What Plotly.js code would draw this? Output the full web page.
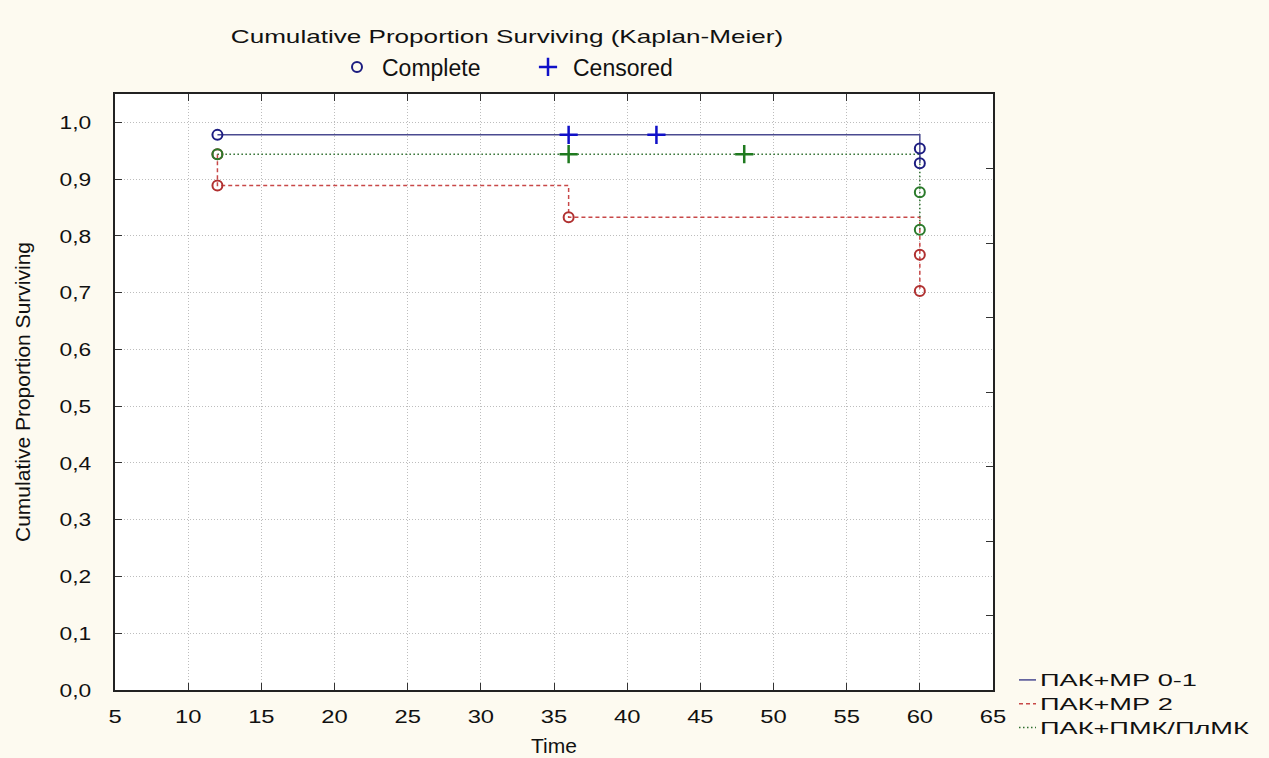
<!DOCTYPE html>
<html>
<head>
<meta charset="utf-8">
<script src="https://cdn.plot.ly/plotly-3.0.1.min.js"></script>
<style>html,body{margin:0;padding:0;background:#fdfaf0;}</style>
</head>
<body>
<div id="chart" style="width:1269px;height:758px;"></div>
<script>
// Group names
const groupNames = ['ПАК+МР 0-1', 'ПАК+МР 2', 'ПАК+ПМК/ПлМК'];
const markerNames = ['Complete', 'Censored'];

// Complete (event) points: time and cumulative proportion surviving
const mr01Time = [12, 60, 60];
const mr01Surv = [0.978, 0.954, 0.928];
const mr2Time = [12, 12, 36, 60, 60];
const mr2Surv = [0.944, 0.889, 0.833, 0.767, 0.703];
const pmkTime = [12, 60, 60];
const pmkSurv = [0.944, 0.877, 0.811];

// Censored points
const mr01CensTime = [36, 42];
const mr01CensSurv = [0.978, 0.978];
const pmkCensTime = [36, 48];
const pmkCensSurv = [0.944, 0.944];

// Axis ticks
const xTicks = [5, 10, 15, 20, 25, 30, 35, 40, 45, 50, 55, 60, 65];
const yTicks = [0, 0.1, 0.2, 0.3, 0.4, 0.5, 0.6, 0.7, 0.8, 0.9, 1.0];

const colBlueLine = '#4a4a90', colRedLine = '#c84848', colGreenLine = '#2f6f2f';
const colBlueMk = '#1c1c80', colRedMk = '#b03030', colGreenMk = '#2a7a2a';
const colBlueCens = '#1010c8', colGreenCens = '#1f7a1f';

const traces = [
  {x: mr2Time, y: mr2Surv, mode: 'lines', line: {shape: 'hv', color: colRedLine, width: 1.5, dash: '4px,3px'},
   name: groupNames[1], legend: 'legend', legendrank: 2},
  {x: pmkTime, y: pmkSurv, mode: 'lines', line: {shape: 'hv', color: colGreenLine, width: 1.5, dash: '1.5px,2.5px'},
   name: groupNames[2], legend: 'legend', legendrank: 3},
  {x: mr01Time, y: mr01Surv, mode: 'lines', line: {shape: 'hv', color: colBlueLine, width: 1.5},
   name: groupNames[0], legend: 'legend', legendrank: 1},
  {x: [].concat(mr01Time.slice(0,1), mr2Time, pmkTime, mr01Time.slice(1)),
   y: [].concat(mr01Surv.slice(0,1), mr2Surv, pmkSurv, mr01Surv.slice(1)),
   mode: 'markers', name: markerNames[0], legend: 'legend2',
   marker: {symbol: 'circle-open', size: 10,
     color: [].concat([colBlueMk], mr2Time.map(()=>colRedMk), pmkTime.map(()=>colGreenMk), [colBlueMk, colBlueMk]),
     line: {width: 2}}},
  {x: [].concat(mr01CensTime, pmkCensTime), y: [].concat(mr01CensSurv, pmkCensSurv),
   mode: 'markers', name: markerNames[1], legend: 'legend2',
   marker: {symbol: 'cross-thin-open', size: 13,
     color: [].concat(mr01CensTime.map(()=>colBlueCens), pmkCensTime.map(()=>colGreenCens)),
     line: {width: 2.5}}},
  // dummy trace for right-side tick axis
  {x: [null], y: [null], yaxis: 'y2', showlegend: false, hoverinfo: 'skip'}
];

const sans = 'Liberation Sans, Arial, sans-serif';
const tickFont = {family: sans, size: 19, color: '#111'};

const layout = {
  width: 1269, height: 758,
  paper_bgcolor: '#fdfaf0', plot_bgcolor: '#ffffff',
  separators: ', ',
  margin: {l: 115, r: 276, t: 94, b: 68},
  title: {text: 'Cumulative Proportion Surviving (Kaplan-Meier)', x: 507/1269, xanchor: 'center',
          y: 1 - 37/758, yanchor: 'middle', font: {family: sans, size: 18, color: '#111'}},
  xaxis: {range: [5, 65], tickvals: xTicks, tickformat: 'd', ticks: 'inside', ticklen: 7, tickcolor: '#333',
          showline: true, linecolor: '#222', linewidth: 2, mirror: 'ticks', zeroline: false,
          showgrid: true, gridcolor: '#bdbdbd', griddash: '1px,2px', gridwidth: 1,
          tickfont: tickFont, ticklabelstandoff: 8,
          title: {text: 'Time', font: {family: sans, size: 21, color: '#111'}, standoff: 13}},
  yaxis: {range: [0, 1.05], tickvals: yTicks, tickformat: '.1f', ticks: 'inside', ticklen: 7, tickcolor: '#333',
          showline: true, linecolor: '#222', linewidth: 2, mirror: true, zeroline: false,
          showgrid: true, gridcolor: '#bdbdbd', griddash: '1px,2px', gridwidth: 1,
          tickfont: tickFont, ticklabelstandoff: 18,
          title: {text: 'Cumulative Proportion Surviving', font: {family: sans, size: 21, color: '#111'}, standoff: 28}},
  yaxis2: {overlaying: 'y', side: 'right', range: [0, 8], dtick: 1, ticks: 'inside', ticklen: 7, tickcolor: '#333',
           showticklabels: false, showgrid: false, zeroline: false, showline: false},
  showlegend: true,
  legend: {xref: 'container', yref: 'container', x: 1000/1269, y: 1 - 663/758, xanchor: 'left', yanchor: 'top',
           bgcolor: 'rgba(0,0,0,0)', font: {family: sans, size: 16, color: '#111'}, itemwidth: 30, tracegroupgap: 0,
           traceorder: 'normal'},
  legend2: {xref: 'container', yref: 'container', x: 332/1269, y: 1 - 67/758, xanchor: 'left', yanchor: 'middle',
            orientation: 'h', bgcolor: 'rgba(0,0,0,0)', font: {family: sans, size: 23, color: '#111'},
            itemwidth: 40, entrywidth: 136, entrywidthmode: 'pixels'}
};

function stretchEl(t, s, dx) {
  const done = t.getAttribute('data-stretched');
  const cur = t.getAttribute('transform') || '';
  if (done !== null && done === cur) return;
  const x = parseFloat(t.getAttribute('x')) || 0;
  const y = parseFloat(t.getAttribute('y')) || 0;
  const nt = cur + ' translate(' + (x + (dx || 0)) + ',' + y + ') scale(' + s + ',1) translate(' + (-x) + ',' + (-y) + ')';
  t.setAttribute('transform', nt);
  t.setAttribute('data-stretched', nt);
}
function stretch(sel, s, dx) {
  document.querySelectorAll(sel).forEach(function (t) { stretchEl(t, s, dx); });
}

function applyStretch() {
  stretch('#chart .gtitle', 1.45, 0);
  document.querySelectorAll('#chart text.legendtext').forEach(function (t) {
    if (markerNames.indexOf(t.textContent.trim()) < 0) stretchEl(t, 1.7, 0);
  });
  stretch('#chart .xtick text', 1.25, 0);
  stretch('#chart .ytick text', 1.2, 0);
  document.querySelectorAll('#chart g.legend .legendlines path').forEach(function (p) {
    p.setAttribute('d', 'M19,0h17');
  });
  document.querySelectorAll('#chart .infolayer [clip-path]').forEach(function (g) {
    g.removeAttribute('clip-path');
  });
}

const gd = document.getElementById('chart');
Plotly.newPlot(gd, traces, layout, {displayModeBar: false, staticPlot: true}).then(function () {
  applyStretch();
  setTimeout(applyStretch, 30);
  setTimeout(applyStretch, 200);
});
gd.on && gd.on('plotly_afterplot', applyStretch);
</script>
</body>
</html>
